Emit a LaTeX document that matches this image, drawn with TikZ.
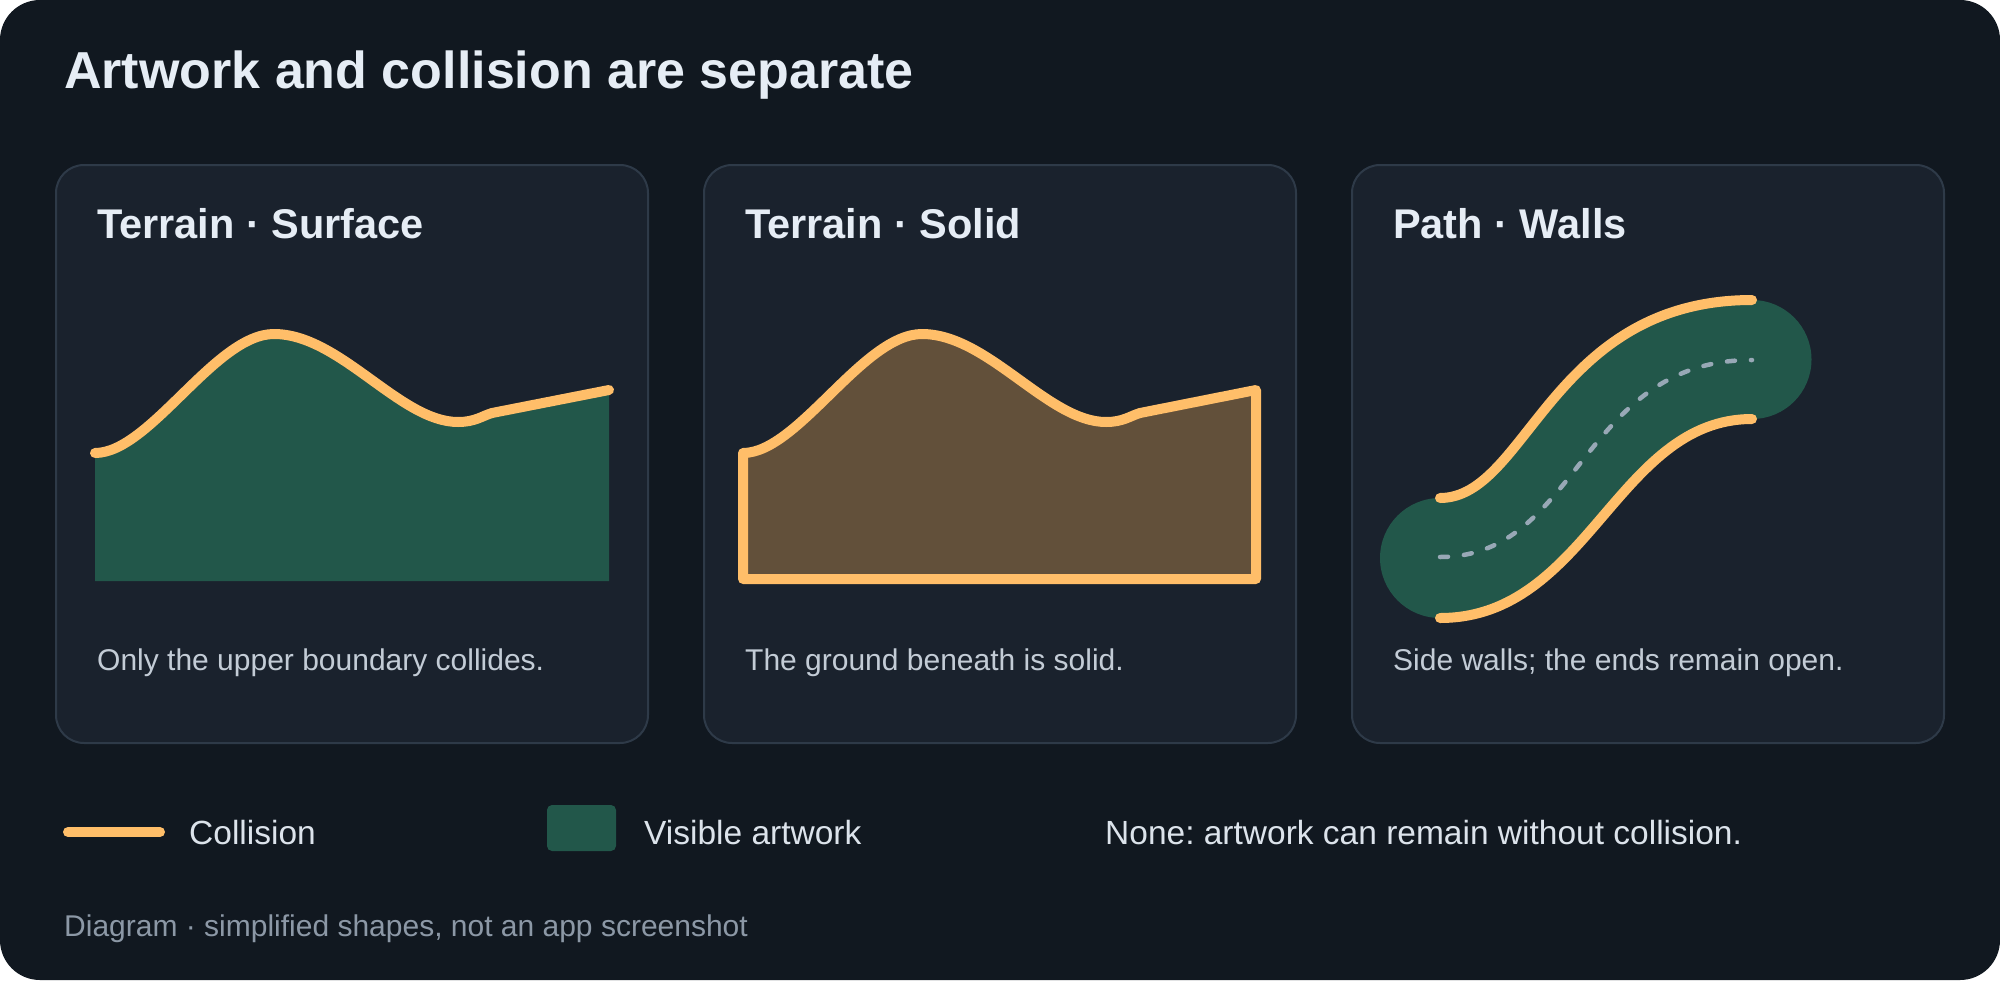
\documentclass[tikz,border=0pt]{standalone}
\usepackage{fontspec}
\setmainfont{Liberation Sans}
\frenchspacing
\definecolor{pagebg}{HTML}{111820}
\definecolor{cardbg}{HTML}{1A222D}
\definecolor{cardline}{HTML}{2E3A48}
\definecolor{headtxt}{HTML}{E6EDF5}
\definecolor{captxt}{HTML}{C3CCD6}
\definecolor{legtxt}{HTML}{DCE3EB}
\definecolor{foottxt}{HTML}{8C98A6}
\definecolor{edgeorange}{HTML}{FFBE69}
\definecolor{grassgreen}{HTML}{22574A}
\definecolor{dirtbrown}{HTML}{62503A}
\definecolor{lanegray}{HTML}{98A8B6}
\begin{document}
\begin{tikzpicture}[x=1pt,y=-1pt,
  cardbox/.style={fill=cardbg,draw=cardline,line width=2pt,rounded corners=28pt},
  bigtitle/.style={anchor=base west,inner sep=0pt,text=headtxt,font=\bfseries\fontsize{52}{62}\selectfont},
  heading/.style={anchor=base west,inner sep=0pt,text=headtxt,font=\bfseries\fontsize{41.5}{50}\selectfont},
  capline/.style={anchor=base west,inner sep=0pt,text=captxt,font=\fontsize{30}{36}\selectfont},
  legline/.style={anchor=base west,inner sep=0pt,text=legtxt,font=\fontsize{33.5}{40}\selectfont},
  footline/.style={anchor=base west,inner sep=0pt,text=foottxt,font=\fontsize{30}{36}\selectfont},
  collider/.style={draw=edgeorange,line width=10pt,line cap=round,line join=round},
  lanemark/.style={draw=lanegray,line width=4.5pt,line cap=round,dash pattern=on 8pt off 16pt}]
\useasboundingbox (0,0) rectangle (2000,980);
\fill[white] (0,0) rectangle (2000,980);
\fill[pagebg,rounded corners=40pt] (0,0) rectangle (2000,980);
\node[bigtitle] (title) at (64,88) {Artwork and collision are separate};
\foreach \i/\cx/\ttl/\capt in {1/56/{Terrain · Surface}/{Only the upper boundary collides.},2/704/{Terrain · Solid}/{The ground beneath is solid.},3/1352/{Path · Walls}/{Side walls; the ends remain open.}} {
\begin{scope}[xshift=\cx pt]
\draw[cardbox] (0,165) rectangle (592,743);
\node[heading] (head\i) at (41,238) {\ttl};
\node[capline] (cap\i) at (41,670) {\capt};
\end{scope}
}
\begin{scope}[xshift=56pt]
\fill[grassgreen] (39,453) .. controls (94,453) and (159,334) .. (218,334) .. controls (284,334) and (344,422) .. (402,422) .. controls (419,422) and (426,416) .. (436,413) -- (553,390) -- (553,581) -- (39,581) -- cycle;
\draw[collider] (39,453) .. controls (94,453) and (159,334) .. (218,334) .. controls (284,334) and (344,422) .. (402,422) .. controls (419,422) and (426,416) .. (436,413) -- (553,390);
\end{scope}
\begin{scope}[xshift=704pt]
\filldraw[collider,fill=dirtbrown] (39,453) .. controls (94,453) and (159,334) .. (218,334) .. controls (284,334) and (344,422) .. (402,422) .. controls (419,422) and (426,416) .. (436,413) -- (552,390) -- (552,579) -- (39,579) -- cycle;
\end{scope}
\begin{scope}[xshift=1352pt]
\fill[grassgreen] (88,498) .. controls (175,498) and (199,300) .. (400,300) -- (400,419) .. controls (265,419) and (236,618) .. (88,618) -- cycle;
\fill[grassgreen] (88,558) circle (60pt);
\fill[grassgreen] (400,359.5) circle (59.5pt);
\draw[lanemark] (88,557) .. controls (228,557) and (228,360) .. (400,360);
\draw[collider] (88,498) .. controls (175,498) and (199,300) .. (400,300);
\draw[collider] (88,618) .. controls (236,618) and (265,419) .. (400,419);
\end{scope}
\coordinate (lgA) at (68,832);
\coordinate (lgB) at (160,832);
\draw[collider] (lgA) -- (lgB);
\node[legline] (lcoll) at (189,844) {Collision};
\fill[grassgreen,rounded corners=5pt] (547,805) rectangle (616,851);
\node[legline] (lart) at (644,844) {Visible artwork};
\node[legline] (lnone) at (1105,844) {None: artwork can remain without collision.};
\node[footline] (foot) at (64,936) {Diagram · simplified shapes, not an app screenshot};
\end{tikzpicture}
\end{document}
